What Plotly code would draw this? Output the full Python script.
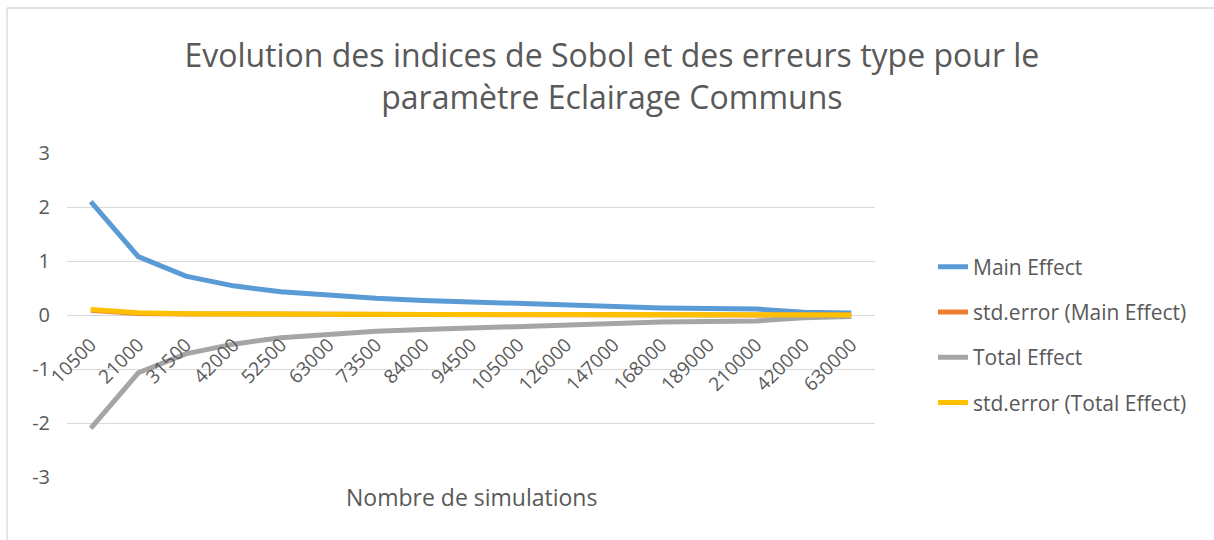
import plotly.graph_objects as go

# Sample sizes (categorical x axis)
simulations = ["10500", "21000", "31500", "42000", "52500", "63000", "73500", "84000",
               "94500", "105000", "126000", "147000", "168000", "189000", "210000",
               "420000", "630000"]

main_effect = [2.10, 1.08, 0.72, 0.54, 0.43, 0.36, 0.31, 0.27, 0.24, 0.21,
               0.18, 0.15, 0.13, 0.12, 0.11, 0.05, 0.035]
std_main = [0.09, 0.03, 0.02, 0.015, 0.012, 0.01, 0.009, 0.008, 0.007, 0.006,
            0.005, 0.005, 0.004, 0.004, 0.003, 0.002, 0.001]
total_effect = [-2.10, -1.07, -0.72, -0.54, -0.42, -0.35, -0.30, -0.27, -0.24, -0.21,
                -0.18, -0.15, -0.13, -0.12, -0.11, -0.05, -0.03]
std_total = [0.10, 0.04, 0.025, 0.018, 0.014, 0.012, 0.01, 0.009, 0.008, 0.007,
             0.006, 0.005, 0.005, 0.004, 0.004, 0.002, 0.001]

y_ticks = [-3, -2, -1, 0, 1, 2, 3]

series = [
    ("Main Effect", main_effect, "#5B9BD5"),
    ("std.error (Main Effect)", std_main, "#ED7D31"),
    ("Total Effect", total_effect, "#A5A5A5"),
    ("std.error (Total Effect)", std_total, "#FFC000"),
]

TXT = "#595959"
GRID = "#D9D9D9"
FONT = "Open Sans"

fig = go.Figure()
for i, (name, vals, color) in enumerate(series):
    fig.add_trace(go.Scatter(
        x=simulations, y=vals, name=name, mode="lines",
        line=dict(color=color, width=5),
        legendgroup=f"g{i}",
    ))

W, H = 1214, 540
L, R, T, B = 67, 339, 153, 63
pw, ph = W - L - R, H - T - B


def px_x(p):
    return (p - L) / pw


def px_y(p):
    return (H - B - p) / ph


fig.update_layout(
    width=W, height=H,
    margin=dict(l=L, r=R, t=T, b=B, autoexpand=False),
    paper_bgcolor="white", plot_bgcolor="white",
    font=dict(family=FONT, color=TXT, size=19),
    title=dict(
        text="Evolution des indices de Sobol et des erreurs type pour le<br>paramètre Eclairage Communs",
        x=0.504, xanchor="center", y=0.876, yanchor="top",
        font=dict(family=FONT, size=32, color=TXT),
    ),
    xaxis=dict(
        type="category", range=[-0.5, len(simulations) - 0.5],
        showgrid=False, zeroline=False, showline=False, ticks="",
        tickangle=-45, anchor="free", position=0.5, ticklabelstandoff=14,
        tickfont=dict(size=19, color=TXT),
    ),
    yaxis=dict(
        range=[-3, 3], tickvals=y_ticks, ticktext=[str(v) for v in y_ticks],
        showgrid=True, gridcolor=GRID, gridwidth=1.3,
        zeroline=False, showline=False, ticks="", ticklabelstandoff=16,
        tickfont=dict(size=20, color=TXT),
    ),
    legend=dict(
        x=px_x(933), xanchor="left", y=px_y(335), yanchor="middle",
        tracegroupgap=15, font=dict(size=21, color=TXT),
        bgcolor="rgba(0,0,0,0)",
    ),
    showlegend=True,
)

# x axis title at the bottom of the plot area
fig.add_annotation(
    text="Nombre de simulations", xref="paper", yref="paper",
    x=0.5, y=px_y(497), xanchor="center", yanchor="middle",
    showarrow=False, font=dict(size=23, color=TXT),
)

# chart frame (top and left edges)
for x0, y0, x1, y1 in [(7, 8, 1214, 8), (7, 8, 7, 540)]:
    fig.add_shape(
        type="line", xref="paper", yref="paper",
        x0=px_x(x0), x1=px_x(x1), y0=px_y(y0), y1=px_y(y1),
        line=dict(color=GRID, width=1.3), layer="below",
    )

fig.write_html("out.html")
